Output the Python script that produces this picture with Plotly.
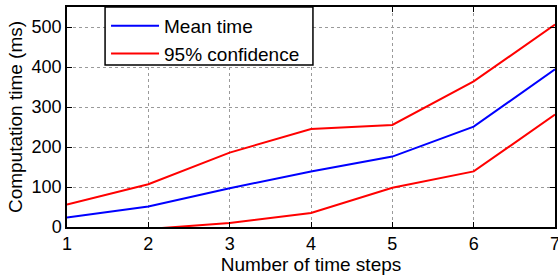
import plotly.graph_objects as go

steps = [1, 2, 3, 4, 5, 6, 7]
mean_time = [24, 51, 97, 139, 176, 251, 394]
upper_ci = [56, 107, 186, 245, 255, 364, 506]
lower_ci = [-8, -5, 10, 35, 98, 139, 281]

fig = go.Figure()
fig.add_trace(go.Scatter(x=steps, y=mean_time, mode="lines", name="Mean time",
                         line=dict(color="#0000FF", width=2)))
fig.add_trace(go.Scatter(x=steps, y=upper_ci, mode="lines", name="95% confidence",
                         legendgroup="ci", line=dict(color="#FF0000", width=2)))
fig.add_trace(go.Scatter(x=steps, y=lower_ci, mode="lines", name="95% confidence",
                         legendgroup="ci", showlegend=False,
                         line=dict(color="#FF0000", width=2)))

axis_common = dict(
    showline=True, linecolor="black", linewidth=1.5, mirror="ticks",
    ticks="inside", ticklen=5, tickcolor="black", tickwidth=1,
    showgrid=True, gridcolor="#9a9a9a", griddash="dot", gridwidth=1,
    zeroline=False, tickfont=dict(size=18, color="black"), automargin=False,
    ticklabeloverflow="allow",
)

fig.update_layout(
    width=558, height=275,
    margin=dict(l=67, r=3, t=7, b=48),
    paper_bgcolor="white", plot_bgcolor="white",
    font=dict(family="Liberation Sans, Arial, sans-serif", color="black"),
    xaxis=dict(range=[1, 7], tickvals=steps, **axis_common,
               title=dict(text="Number of time steps", font=dict(size=19), standoff=0)),
    yaxis=dict(range=[0, 550], tickvals=[0, 100, 200, 300, 400, 500], **axis_common,
               title=dict(text="Computation time (ms)", font=dict(size=19), standoff=4)),
    legend=dict(x=0.080, y=1.0, xanchor="left", yanchor="top",
                borderwidth=0, bgcolor="rgba(0,0,0,0)",
                font=dict(size=19), tracegroupgap=0, itemwidth=48),
    showlegend=True,
    shapes=[dict(type="rect", xref="paper", yref="paper",
                 x0=0.078, x1=0.504, y0=0.736, y1=1.0,
                 line=dict(color="black", width=1.5), fillcolor="white", layer="above")],
)

fig.write_html("out.html", config={"displayModeBar": False},
               post_script="document.body.style.margin='0';document.body.style.overflow='hidden';")
